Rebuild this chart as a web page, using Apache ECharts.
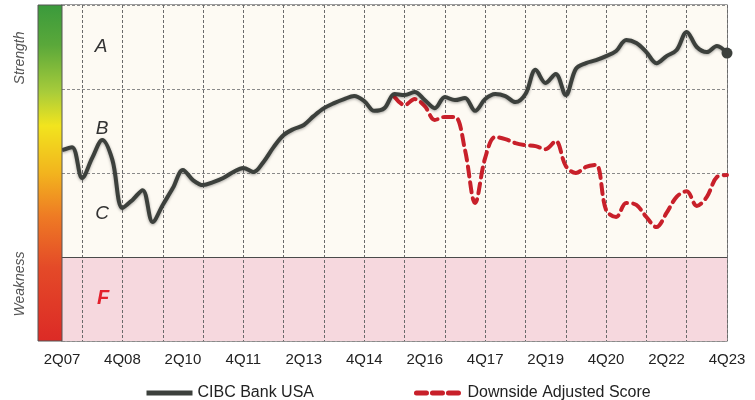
<!DOCTYPE html>
<html lang="en">
<head>
    <meta charset="UTF-8">
    <title>CIBC Bank USA</title>
    <script src="https://cdn.jsdelivr.net/npm/echarts@6/dist/echarts.min.js"></script>
    <style>
        body { margin: 0; background: #ffffff; }
    </style>
</head>
<body>
<div id="myChart" style="width: 755px;height: 400px"></div>
</body>
<script>
    // quarters 2Q07 .. 4Q23
    var quarters = [];
    for (var yr = 2007; yr <= 2023; yr++) {
        for (var q = 1; q <= 4; q++) {
            if (yr === 2007 && q < 2) continue;
            quarters.push(q + 'Q' + String(yr).slice(2));
        }
    }

    var cibcScore = [
        56.8, 57.7, 48.5, 54.5, 59.8, 53.9, 39.6, 42.0, 44.9, 35.4,
        40.5, 45.5, 50.9, 47.9, 46.4, 47.3, 48.5, 50.3, 51.5, 50.3,
        53.3, 57.7, 61.3, 63.1, 64.3, 67.0, 69.3, 70.8, 72.0, 72.9,
        71.4, 68.5, 69.3, 73.5, 73.2, 74.1, 71.7, 69.3, 72.6, 71.7,
        72.3, 68.5, 72.0, 73.5, 72.9, 71.1, 73.5, 80.7, 76.8, 79.5,
        73.2, 81.0, 82.7, 83.6, 84.8, 86.3, 89.6, 88.7, 86.0, 82.7,
        84.8, 86.6, 92.0, 87.5, 86.0, 87.8, 85.7
    ];

    var downsideScore = [
        null, null, null, null, null, null, null, null, null, null,
        null, null, null, null, null, null, null, null, null, null,
        null, null, null, null, null, null, null, null, null, null,
        null, null, null, 72.6, 70.2, 72.0, 69.9, 65.8, 66.7, 66.7,
        56.8, 41.1, 54.5, 60.7, 60.1, 58.9, 58.3, 58.0, 57.1, 59.5,
        52.1, 50.0, 51.8, 52.4, 39.0, 36.9, 41.1, 40.5, 36.9, 33.9,
        38.1, 42.9, 44.6, 40.2, 42.9, 48.8, 49.4
    ];

    // rating bands (score range)
    var bandEdges = [0, 25, 50, 75, 100];
    var bandNames = ['F', 'C', 'B', 'A'];

    var lastIdx = cibcScore.length - 1;
    var font = 'Liberation Sans, Arial, sans-serif';

    var myChart = echarts.init(document.getElementById('myChart'));
    myChart.setOption({
        animation: false,
        backgroundColor: '#ffffff',
        grid: {
            left: 62,
            right: 28,
            top: 5,
            bottom: 59,
            show: true,
            backgroundColor: '#fdfaf3',
            borderColor: '#3a3a3a',
            borderWidth: 1.2
        },
        legend: {
            data: ['CIBC Bank USA', 'Downside Adjusted Score'],
            left: 139,
            top: 380,
            itemWidth: 46,
            itemHeight: 16,
            itemGap: 100,
            itemStyle: { opacity: 0 },
            lineStyle: { width: 5 },
            textStyle: { fontFamily: font, fontSize: 16, color: '#222' }
        },
        xAxis: {
            type: 'category',
            data: quarters,
            z: 2,
            boundaryGap: false,
            axisLine: { show: false },
            axisTick: { show: false },
            axisLabel: {
                interval: function (index) { return index % 6 === 0; },
                margin: 11,
                fontFamily: font,
                fontSize: 15,
                color: '#222'
            },
            splitLine: {
                show: true,
                interval: function (index) { return (index - 2) % 4 === 0; },
                lineStyle: { color: '#6a6a6a', width: 1, type: [3, 2] }
            }
        },
        yAxis: {
            type: 'value',
            min: bandEdges[0],
            max: bandEdges[4],
            interval: 25,
            z: 1,
            axisLine: { show: false },
            axisTick: { show: false },
            axisLabel: { show: false },
            splitArea: {
                show: true,
                areaStyle: { color: ['#f6d8de', '#fdfaf3', '#fdfaf3', '#fdfaf3'] }
            },
            splitLine: {
                show: true,
                lineStyle: { color: '#8a8a8a', width: 1, type: [3, 2] }
            }
        },
        series: [{
            name: 'CIBC Bank USA',
            type: 'line',
            data: cibcScore,
            smooth: 0.35,
            symbol: 'circle',
            showSymbol: true,
            symbolSize: function (val, params) {
                return params.dataIndex === lastIdx ? 11 : 0;
            },
            itemStyle: { color: '#3c403c' },
            lineStyle: {
                color: '#3c403c',
                width: 4,
                shadowColor: 'rgba(0,0,0,0.35)',
                shadowBlur: 3,
                shadowOffsetY: 1
            },
            z: 3,
            markLine: {
                silent: true,
                symbol: 'none',
                label: { show: false },
                lineStyle: { color: '#4a4a4a', width: 1.2, type: 'solid' },
                data: [{ yAxis: bandEdges[1] }]
            }
        }, {
            name: 'Downside Adjusted Score',
            type: 'line',
            data: downsideScore,
            smooth: 0.35,
            symbol: 'none',
            itemStyle: { color: '#c8202a' },
            lineStyle: {
                color: '#c8202a',
                width: 4,
                type: [10, 6],
                cap: 'round'
            },
            z: 2
        }],
        graphic: [{
            // strength/weakness colour bar
            type: 'rect',
            z: 100,
            shape: { x: 38, y: 5, width: 24, height: 336 },
            style: {
                fill: new echarts.graphic.LinearGradient(0, 0, 0, 1, [
                    { offset: 0, color: '#3a9a3c' },
                    { offset: 0.12, color: '#5aa83a' },
                    { offset: 0.26, color: '#a8cc3a' },
                    { offset: 0.36, color: '#f2e41e' },
                    { offset: 0.5, color: '#f2b41e' },
                    { offset: 0.63, color: '#ee7a24' },
                    { offset: 0.78, color: '#e44a28' },
                    { offset: 1, color: '#dc2a26' }
                ]),
                stroke: '#555',
                lineWidth: 1
            }
        }, {
            type: 'text', z: 100,
            x: 20, y: 58, rotation: Math.PI / 2,
            style: {
                text: 'Strength', fill: '#555', font: 'italic 14px ' + font,
                align: 'center', verticalAlign: 'middle'
            }
        }, {
            type: 'text', z: 100,
            x: 20, y: 284, rotation: Math.PI / 2,
            style: {
                text: 'Weakness', fill: '#555', font: 'italic 14px ' + font,
                align: 'center', verticalAlign: 'middle'
            }
        }, {
            type: 'text', z: 100, x: 101, y: 47,
            style: { text: bandNames[3], fill: '#333', font: 'italic 19px ' + font, align: 'center', verticalAlign: 'middle' }
        }, {
            type: 'text', z: 100, x: 102, y: 129,
            style: { text: bandNames[2], fill: '#333', font: 'italic 19px ' + font, align: 'center', verticalAlign: 'middle' }
        }, {
            type: 'text', z: 100, x: 102, y: 214,
            style: { text: bandNames[1], fill: '#333', font: 'italic 19px ' + font, align: 'center', verticalAlign: 'middle' }
        }, {
            type: 'text', z: 100, x: 103, y: 298,
            style: { text: bandNames[0], fill: '#e3202c', font: 'italic bold 20px ' + font, align: 'center', verticalAlign: 'middle' }
        }]
    });
</script>
</html>
